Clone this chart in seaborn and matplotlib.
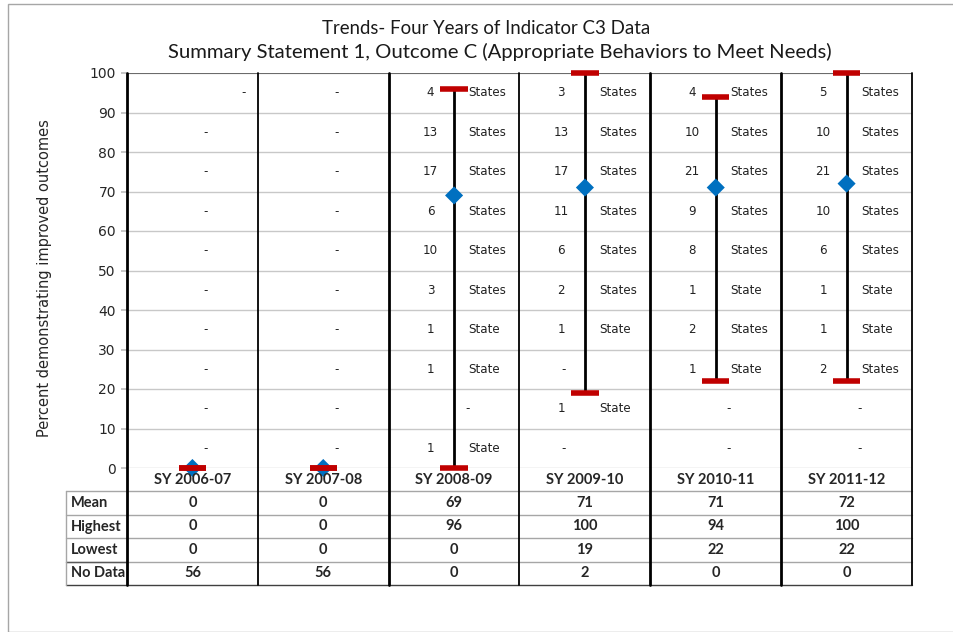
#recreating the indicator C3 trends chart
#range lines per school year, mean diamonds, state counts per 10-point band
#and the little summary table underneath

import pandas as pd
import matplotlib
matplotlib.use("Agg")
import matplotlib.pyplot as plt
import seaborn as sns
from matplotlib.patches import Rectangle

#data
years = ["SY 2006-07", "SY 2007-08", "SY 2008-09", "SY 2009-10", "SY 2010-11", "SY 2011-12"]
mean_vals = [0, 0, 69, 71, 71, 72]
highest_vals = [0, 0, 96, 100, 94, 100]
lowest_vals = [0, 0, 0, 19, 22, 22]
no_data_vals = [56, 56, 0, 2, 0, 0]

#number of states in each 10 point band, top band (90-100) first, None = "-"
band_mid = [95, 85, 75, 65, 55, 45, 35, 25, 15, 5]
counts_0607 = [None, None, None, None, None, None, None, None, None, None]
counts_0708 = [None, None, None, None, None, None, None, None, None, None]
counts_0809 = [4, 13, 17, 6, 10, 3, 1, 1, None, 1]
counts_0910 = [3, 13, 17, 11, 6, 2, 1, None, 1, None]
counts_1011 = [4, 10, 21, 9, 8, 1, 2, 1, None, None]
counts_1112 = [5, 10, 21, 10, 6, 1, 1, 2, None, None]
band_counts = [counts_0607, counts_0708, counts_0809, counts_0910, counts_1011, counts_1112]

table_rows = ["Mean", "Highest", "Lowest", "No Data"]
yticks = [0, 10, 20, 30, 40, 50, 60, 70, 80, 90, 100]

df = pd.DataFrame({"pos": range(len(years)), "year": years, "mean": mean_vals,
                   "high": highest_vals, "low": lowest_vals})

sns.set_theme(style="white")
plt.rcParams["font.family"] = ["DejaVu Sans"]
BOLD = ["Lato", "DejaVu Sans"]

W, H = 954, 632
fig = plt.figure(figsize=(W / 100, H / 100), dpi=100)

#grey frame around the slide
fig.patches.append(Rectangle((8 / W, 0), 1, 1 - 4 / H, transform=fig.transFigure,
                             fill=False, edgecolor="#a6a6a6", lw=1))

#main plot area in pixel terms: x 127..912, y 73..468
ax = fig.add_axes([127 / W, 1 - 468 / H, 785 / W, 395 / H])
ax.set_xlim(-0.5, 5.5)
ax.set_ylim(0, 100)
for s in ax.spines.values():
    s.set_visible(False)
ax.set_xticks([])
ax.set_yticks(yticks)
ax.tick_params(axis="y", length=4, color="#bfbfbf", pad=4, labelsize=10, left=True,
               labelcolor="#262626")
ax.yaxis.grid(True, color="#c8c8c8", lw=1)
ax.set_axisbelow(True)
ax.axhline(100, color="#595959", lw=1.2)

#range lines, means, caps
ax.vlines(df["pos"], df["low"], df["high"], color="black", lw=2, zorder=3)
sns.scatterplot(data=df, x="pos", y="mean", marker="D", s=85, color="#0070c0",
                edgecolor="none", ax=ax, zorder=4, clip_on=False, legend=False)
ax.hlines(df["high"], df["pos"] - 0.105, df["pos"] + 0.105, color="#c00000", lw=4,
          zorder=5, clip_on=False)
ax.hlines(df["low"], df["pos"] - 0.105, df["pos"] + 0.105, color="#c00000", lw=4,
          zorder=5, clip_on=False)
ax.set_xlabel("")
ax.set_ylabel("")

#state counts in each band
for i, counts in enumerate(band_counts):
    for j, (y, c) in enumerate(zip(band_mid, counts)):
        if c is None:
            dx = -0.16 if i == 3 else 0.1
            if i == 0 and j == 0:
                dx = 0.39
            ax.text(i + dx, y, "-", ha="center", va="center", fontsize=8.6, color="#222222")
        else:
            ax.text(i - 0.18, y, str(c), ha="center", va="center", fontsize=8.6, color="#222222")
            ax.text(i + 0.11, y, "State" if c == 1 else "States", ha="left", va="center",
                    fontsize=8.6, color="#222222")

#table underneath: x 66..912, y 468..585
colw = 785 / 6
tab = fig.add_axes([66 / W, 1 - 585 / H, 846 / W, 117 / H])
tab.set_xlim(-0.5 - 61 / colw, 5.5)
tab.set_ylim(5, 0)
tab.axis("off")
left = -0.5 - 61 / colw
for r in range(1, 6):
    tab.plot([left, 5.5], [r, r], color="#a6a6a6" if r < 5 else "#404040", lw=1,
             clip_on=False)
tab.plot([left, -0.5], [4, 4], color="#595959", lw=1, clip_on=False)
tab.plot([left, left], [1, 5], color="#a6a6a6", lw=1, clip_on=False)

for i, yr in enumerate(years):
    tab.text(i, 0.5, yr, ha="center", va="center", fontsize=10.5, fontweight="bold",
             family=BOLD)
for r, (name, vals) in enumerate(zip(table_rows, [mean_vals, highest_vals, lowest_vals, no_data_vals])):
    tab.text(left + 0.035, r + 1.5, name, ha="left", va="center", fontsize=10.5,
             fontweight="bold", family=BOLD)
    for i, v in enumerate(vals):
        tab.text(i, r + 1.5, str(v), ha="center", va="center", fontsize=10.5,
                 fontweight="bold", family=BOLD)

#column dividers run from the top of the plot down through the table
for k in range(7):
    xb = 127 + k * colw
    lw = 2 if k in (0, 2, 4, 5) else 1.3
    fig.add_artist(plt.Line2D([xb / W, xb / W], [1 - 73 / H, 1 - 585 / H], color="black",
                              lw=lw, transform=fig.transFigure))

#titles and axis label
fig.text(486 / W, 1 - 28 / H, "Trends- Four Years of Indicator C3 Data", ha="center",
         va="center", fontsize=13.4, family=BOLD, color="#1a1a1a")
fig.text(500 / W, 1 - 52 / H, "Summary Statement 1, Outcome C (Appropriate Behaviors to Meet Needs)",
         ha="center", va="center", fontsize=14.6, family=BOLD, color="#1a1a1a")
fig.text(45 / W, 1 - 278 / H, "Percent demonstrating improved outcomes", rotation=90,
         ha="center", va="center", fontsize=10.5, color="#262626")

fig.savefig("out.png", dpi=100)
plt.close()
